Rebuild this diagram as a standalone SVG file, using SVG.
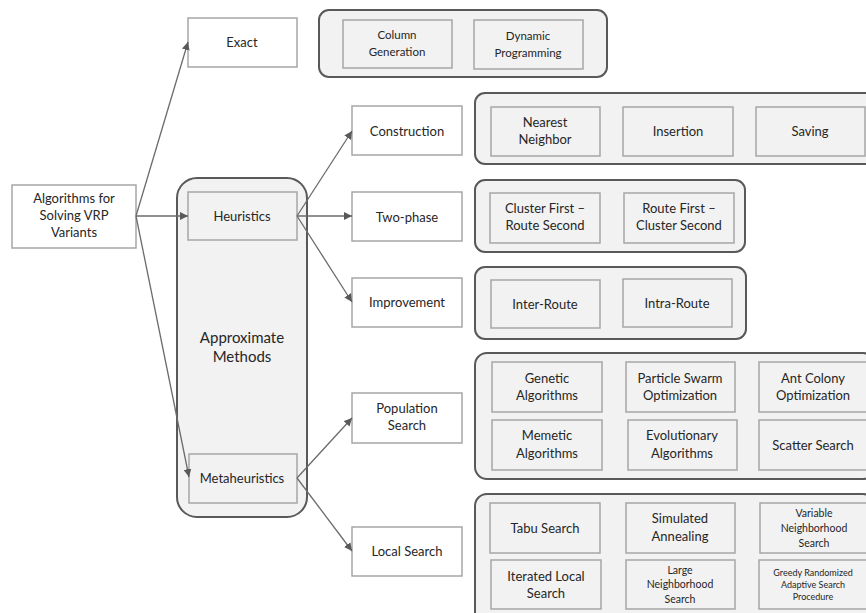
<svg xmlns="http://www.w3.org/2000/svg" width="866" height="613" viewBox="0 0 866 613">
  <style>
    .box { fill: #ffffff; stroke: #a6a6a6; stroke-width: 1.5; }
    .inner { fill: #f2f2f2; stroke: #a6a6a6; stroke-width: 1.5; }
    .group { fill: #f2f2f2; stroke: #595959; stroke-width: 2; }
    .conn { stroke: #6b6b6b; stroke-width: 1.3; fill: none; marker-end: url(#arrow); }
    text { font-family: Lato, "Open Sans", sans-serif; font-size: 13px; fill: #262626; text-anchor: middle; }
    .sm { font-size: 11.5px; }
    .xs { font-size: 10.5px; }
    .xxs { font-size: 9px; }
    .lg { font-size: 15px; }
  </style>
  <defs>
    <marker id="arrow" viewBox="0 0 10 10" refX="10" refY="5" markerWidth="8" markerHeight="8" markerUnits="userSpaceOnUse" orient="auto">
      <path d="M0,0 L10,5 L0,10 z" fill="#595959"/>
    </marker>
  </defs>

  <!-- group containers and category boxes -->
  <g id="approx-methods">
    <rect class="group" x="177" y="178" width="130" height="339" rx="20"/>
    <text class="lg" x="242" y="343">Approximate</text>
    <text class="lg" x="242" y="362">Methods</text>
  </g>

  <g id="root">
    <rect class="box" x="12" y="185" width="124" height="63"/>
    <text x="74" y="203">Algorithms for</text>
    <text x="74" y="220">Solving VRP</text>
    <text x="74" y="237">Variants</text>
  </g>

  <g id="exact">
    <rect class="box" x="188" y="18" width="109" height="49"/>
    <text x="242" y="47">Exact</text>
  </g>

  <g id="heuristics">
    <rect class="inner" x="188" y="192" width="109" height="48"/>
    <text x="242" y="221">Heuristics</text>
  </g>

  <g id="metaheuristics">
    <rect class="inner" x="189" y="454" width="108" height="49"/>
    <text x="242" y="483">Metaheuristics</text>
  </g>

  <g id="construction">
    <rect class="box" x="352" y="106" width="110" height="49"/>
    <text x="407" y="136">Construction</text>
  </g>
  <g id="two-phase">
    <rect class="box" x="352" y="192" width="110" height="49"/>
    <text x="407" y="222">Two-phase</text>
  </g>
  <g id="improvement">
    <rect class="box" x="352" y="278" width="110" height="49"/>
    <text x="407" y="307">Improvement</text>
  </g>
  <g id="population-search">
    <rect class="box" x="352" y="393" width="110" height="50"/>
    <text x="407" y="413">Population</text>
    <text x="407" y="430">Search</text>
  </g>
  <g id="local-search">
    <rect class="box" x="352" y="527" width="110" height="49"/>
    <text x="407" y="556">Local Search</text>
  </g>

  <!-- exact methods -->
  <g id="exact-group">
    <rect class="group" x="319" y="10" width="288" height="67" rx="10"/>
    <g id="column-generation">
      <rect class="inner" x="343" y="20" width="109" height="48"/>
      <text class="sm" x="397" y="39">Column</text>
      <text class="sm" x="397" y="56">Generation</text>
    </g>
    <g id="dynamic-programming">
      <rect class="inner" x="474" y="20" width="109" height="49"/>
      <text class="sm" x="528" y="40">Dynamic</text>
      <text class="sm" x="528" y="57">Programming</text>
    </g>
  </g>

  <!-- construction heuristics -->
  <g id="construction-group">
    <rect class="group" x="475" y="93" width="400" height="71" rx="10"/>
    <g id="nearest-neighbor">
      <rect class="inner" x="491" y="107" width="109" height="49"/>
      <text x="545" y="127">Nearest</text>
      <text x="545" y="144">Neighbor</text>
    </g>
    <g id="insertion">
      <rect class="inner" x="623" y="107" width="110" height="49"/>
      <text x="678" y="136">Insertion</text>
    </g>
    <g id="saving">
      <rect class="inner" x="756" y="107" width="109" height="49"/>
      <text x="810" y="136">Saving</text>
    </g>
  </g>

  <!-- two-phase heuristics -->
  <g id="two-phase-group">
    <rect class="group" x="475" y="180" width="270" height="72" rx="10"/>
    <g id="cluster-first">
      <rect class="inner" x="490" y="193" width="110" height="50"/>
      <text x="545" y="213">Cluster First –</text>
      <text x="545" y="230">Route Second</text>
    </g>
    <g id="route-first">
      <rect class="inner" x="624" y="193" width="110" height="50"/>
      <text x="679" y="213">Route First –</text>
      <text x="679" y="230">Cluster Second</text>
    </g>
  </g>

  <!-- improvement heuristics -->
  <g id="improvement-group">
    <rect class="group" x="475" y="267" width="271" height="72" rx="10"/>
    <g id="inter-route">
      <rect class="inner" x="491" y="280" width="109" height="48"/>
      <text x="545" y="309">Inter-Route</text>
    </g>
    <g id="intra-route">
      <rect class="inner" x="623" y="279" width="109" height="48"/>
      <text x="677" y="308">Intra-Route</text>
    </g>
  </g>

  <!-- population-based metaheuristics -->
  <g id="population-group">
    <rect class="group" x="475" y="353" width="400" height="126" rx="12"/>
    <g id="genetic">
      <rect class="inner" x="492" y="362" width="110" height="50"/>
      <text x="547" y="383">Genetic</text>
      <text x="547" y="400">Algorithms</text>
    </g>
    <g id="pso">
      <rect class="inner" x="626" y="362" width="109" height="50"/>
      <text x="680" y="383">Particle Swarm</text>
      <text x="680" y="400">Optimization</text>
    </g>
    <g id="aco">
      <rect class="inner" x="759" y="362" width="109" height="50"/>
      <text x="813" y="383">Ant Colony</text>
      <text x="813" y="400">Optimization</text>
    </g>
    <g id="memetic">
      <rect class="inner" x="492" y="420" width="110" height="50"/>
      <text x="547" y="440">Memetic</text>
      <text x="547" y="458">Algorithms</text>
    </g>
    <g id="evolutionary">
      <rect class="inner" x="628" y="420" width="109" height="50"/>
      <text x="682" y="440">Evolutionary</text>
      <text x="682" y="458">Algorithms</text>
    </g>
    <g id="scatter-search">
      <rect class="inner" x="759" y="420" width="109" height="50"/>
      <text x="813" y="450">Scatter Search</text>
    </g>
  </g>

  <!-- local search metaheuristics -->
  <g id="local-search-group">
    <rect class="group" x="475" y="494" width="400" height="130" rx="12"/>
    <g id="tabu-search">
      <rect class="inner" x="490" y="503" width="110" height="50"/>
      <text x="545" y="533">Tabu Search</text>
    </g>
    <g id="simulated-annealing">
      <rect class="inner" x="626" y="503" width="109" height="50"/>
      <text x="680" y="523">Simulated</text>
      <text x="680" y="541">Annealing</text>
    </g>
    <g id="vns">
      <rect class="inner" x="760" y="503" width="109" height="50"/>
      <text class="xs" x="814" y="517">Variable</text>
      <text class="xs" x="814" y="532">Neighborhood</text>
      <text class="xs" x="814" y="547">Search</text>
    </g>
    <g id="iterated-local-search">
      <rect class="inner" x="491" y="560" width="110" height="49"/>
      <text x="546" y="581">Iterated Local</text>
      <text x="546" y="598">Search</text>
    </g>
    <g id="lns">
      <rect class="inner" x="626" y="560" width="109" height="49"/>
      <text class="xs" x="680" y="574">Large</text>
      <text class="xs" x="680" y="588">Neighborhood</text>
      <text class="xs" x="680" y="603">Search</text>
    </g>
    <g id="grasp">
      <rect class="inner" x="759" y="560" width="109" height="49"/>
      <text class="xxs" x="813" y="576">Greedy Randomized</text>
      <text class="xxs" x="813" y="588">Adaptive Search</text>
      <text class="xxs" x="813" y="600">Procedure</text>
    </g>
  </g>

  <!-- connectors -->
  <g id="connectors">
    <line class="conn" x1="136" y1="216" x2="188" y2="42"/>
    <line class="conn" x1="136" y1="216" x2="188" y2="216"/>
    <line class="conn" x1="136" y1="216" x2="189" y2="477"/>
    <line class="conn" x1="297" y1="216" x2="352" y2="131"/>
    <line class="conn" x1="297" y1="216" x2="352" y2="216"/>
    <line class="conn" x1="297" y1="216" x2="352" y2="302"/>
    <line class="conn" x1="297" y1="478" x2="352" y2="418"/>
    <line class="conn" x1="297" y1="478" x2="352" y2="551"/>
  </g>
</svg>
